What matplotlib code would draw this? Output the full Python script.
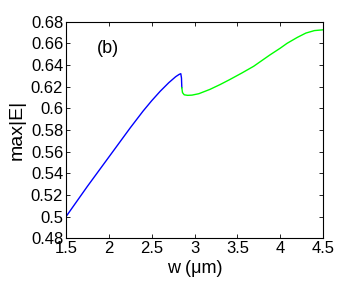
import numpy as np
import matplotlib
matplotlib.use('Agg')
import matplotlib.pyplot as plt

plt.rcParams['font.family'] = ['Liberation Sans', 'DejaVu Sans']

# Data
w_blue = [1.5, 1.75, 2.0, 2.25, 2.4, 2.5, 2.6, 2.7, 2.78, 2.82, 2.84, 2.848, 2.852]
e_blue = [0.500, 0.528, 0.555, 0.582, 0.5975, 0.607, 0.6158, 0.6237, 0.6292, 0.6313, 0.632, 0.628, 0.619]

w_green = [2.852, 2.86, 2.88, 2.92, 2.97, 3.05, 3.18, 3.3, 3.41, 3.55, 3.69, 3.88,
           4.0, 4.08, 4.2, 4.3, 4.4, 4.5]
e_green = [0.619, 0.6145, 0.6125, 0.612, 0.6122, 0.6135, 0.6175, 0.622, 0.6265, 0.6325,
           0.6388, 0.6493, 0.6555, 0.660, 0.6655, 0.6695, 0.6718, 0.6725]

xticks = [1.5, 2, 2.5, 3, 3.5, 4, 4.5]
xticklabels = ['1.5', '2', '2.5', '3', '3.5', '4', '4.5']
yticks = [0.48, 0.50, 0.52, 0.54, 0.56, 0.58, 0.60, 0.62, 0.64, 0.66, 0.68]
yticklabels = ['0.48', '0.5', '0.52', '0.54', '0.56', '0.58', '0.6', '0.62', '0.64', '0.66', '0.68']

fig = plt.figure(figsize=(3.57, 2.83), dpi=100)
ax = fig.add_axes([66/357, 1-238.3/283, 257/357, 216.6/283])

ax.plot(w_blue, e_blue, color='#0000ff', lw=1.0)
ax.plot(w_green, e_green, color='#00ff00', lw=1.0)

ax.set_xlim(1.5, 4.5)
ax.set_ylim(0.48, 0.68)
ax.set_xticks(xticks)
ax.set_xticklabels(xticklabels)
ax.set_yticks(yticks)
ax.set_yticklabels(yticklabels)
ax.tick_params(direction='in', top=True, right=True, length=3, width=0.6,
               labelsize=12, pad=2)
for s in ax.spines.values():
    s.set_linewidth(0.8)

ax.set_xlabel('w (\u03bcm)', fontsize=13, labelpad=3)
ax.set_ylabel('max|E|', fontsize=14, labelpad=4)
ax.text(0.12, 0.878, '(b)', transform=ax.transAxes, fontsize=13, va='center', ha='left')

fig.savefig('out.png', dpi=100)
